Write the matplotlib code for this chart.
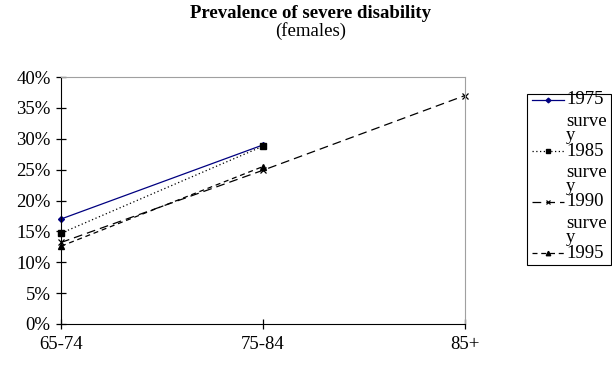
import matplotlib.pyplot as plt
from matplotlib.lines import Line2D
from matplotlib.patches import Rectangle
from matplotlib.ticker import PercentFormatter

plt.rcParams['font.family'] = ['Liberation Serif', 'DejaVu Serif']

age_groups = ["65-74", "75-84", "85+"]
s1975 = [17.0, 29.0]
s1985 = [14.7, 28.8]
s1990 = [13.2, 24.9, 37.0]
s1995 = [12.6, 25.5]
labels = ["1975 survey", "1985 survey", "1990 survey", "1995 survey"]

FS = 13.5

fig = plt.figure(figsize=(6.12, 3.65), dpi=100)
ax = fig.add_axes([61 / 612, 41 / 365, 404 / 612, 247 / 365])

styles = [
    dict(color="#000080", ls="-", marker="D", ms=3, lw=0.9),
    dict(color="black", ls=(0, (1, 2)), marker="s", ms=4, lw=0.9),
    dict(color="black", ls=(0, (7, 4)), marker="x", ms=4, mew=0.9, lw=0.9),
    dict(color="black", ls=(0, (4, 3)), marker="^", ms=4, lw=0.9),
]
series = [s1975, s1985, s1990, s1995]
for vals, st in zip(series, styles):
    ax.plot(range(len(vals)), vals, **st, clip_on=False)

ax.set_xlim(0, 2)
ax.set_ylim(0, 40)
ax.set_xticks(range(len(age_groups)))
ax.set_xticklabels(age_groups)
ax.set_yticks(range(0, 41, 5))
ax.yaxis.set_major_formatter(PercentFormatter(decimals=0))
ax.tick_params(axis="both", labelsize=FS, direction="inout", length=7, width=0.9)
ax.tick_params(axis="x", pad=5)
ax.tick_params(axis="y", pad=4)
for s in ["left", "bottom"]:
    ax.spines[s].set_color("black")
for s in ["top", "right"]:
    ax.spines[s].set_color("#a0a0a0")

fig.text(311 / 612, 1 - 14 / 365, "Prevalence of severe disability", ha="center",
         va="center", fontsize=FS, fontweight="bold")
fig.text(311 / 612, 1 - 31 / 365, "(females)", ha="center", va="center", fontsize=FS)

# legend drawn by hand so the wrapped labels sit like the original
fig.add_artist(Rectangle((527 / 612, 1 - 265 / 365), 84 / 612, 171 / 365,
                         transform=fig.transFigure, fill=False, ec="black", lw=0.8))
ys = [100, 151, 202, 253]
for i, (lab, st, y) in enumerate(zip(labels, styles, ys)):
    yf = 1 - y / 365
    fig.add_artist(Line2D([532 / 612, 564 / 612], [yf, yf], transform=fig.transFigure,
                          color=st["color"], ls=st["ls"], lw=st["lw"]))
    fig.add_artist(Line2D([548 / 612], [yf], transform=fig.transFigure, ls="none",
                          color=st["color"], marker=st["marker"], ms=st["ms"] * 0.8,
                          mew=st.get("mew", 1)))
    year, word = lab.split(" ")
    fig.text(566 / 612, yf, year, ha="left", va="center", fontsize=FS)
    if i < len(labels) - 1:
        fig.text(566 / 612, 1 - (y + 21) / 365, word[:-1], ha="left", va="center", fontsize=FS)
        fig.text(566 / 612, 1 - (y + 40) / 365, word[-1], ha="left", va="baseline", fontsize=FS)

fig.savefig("out.png", dpi=100)
